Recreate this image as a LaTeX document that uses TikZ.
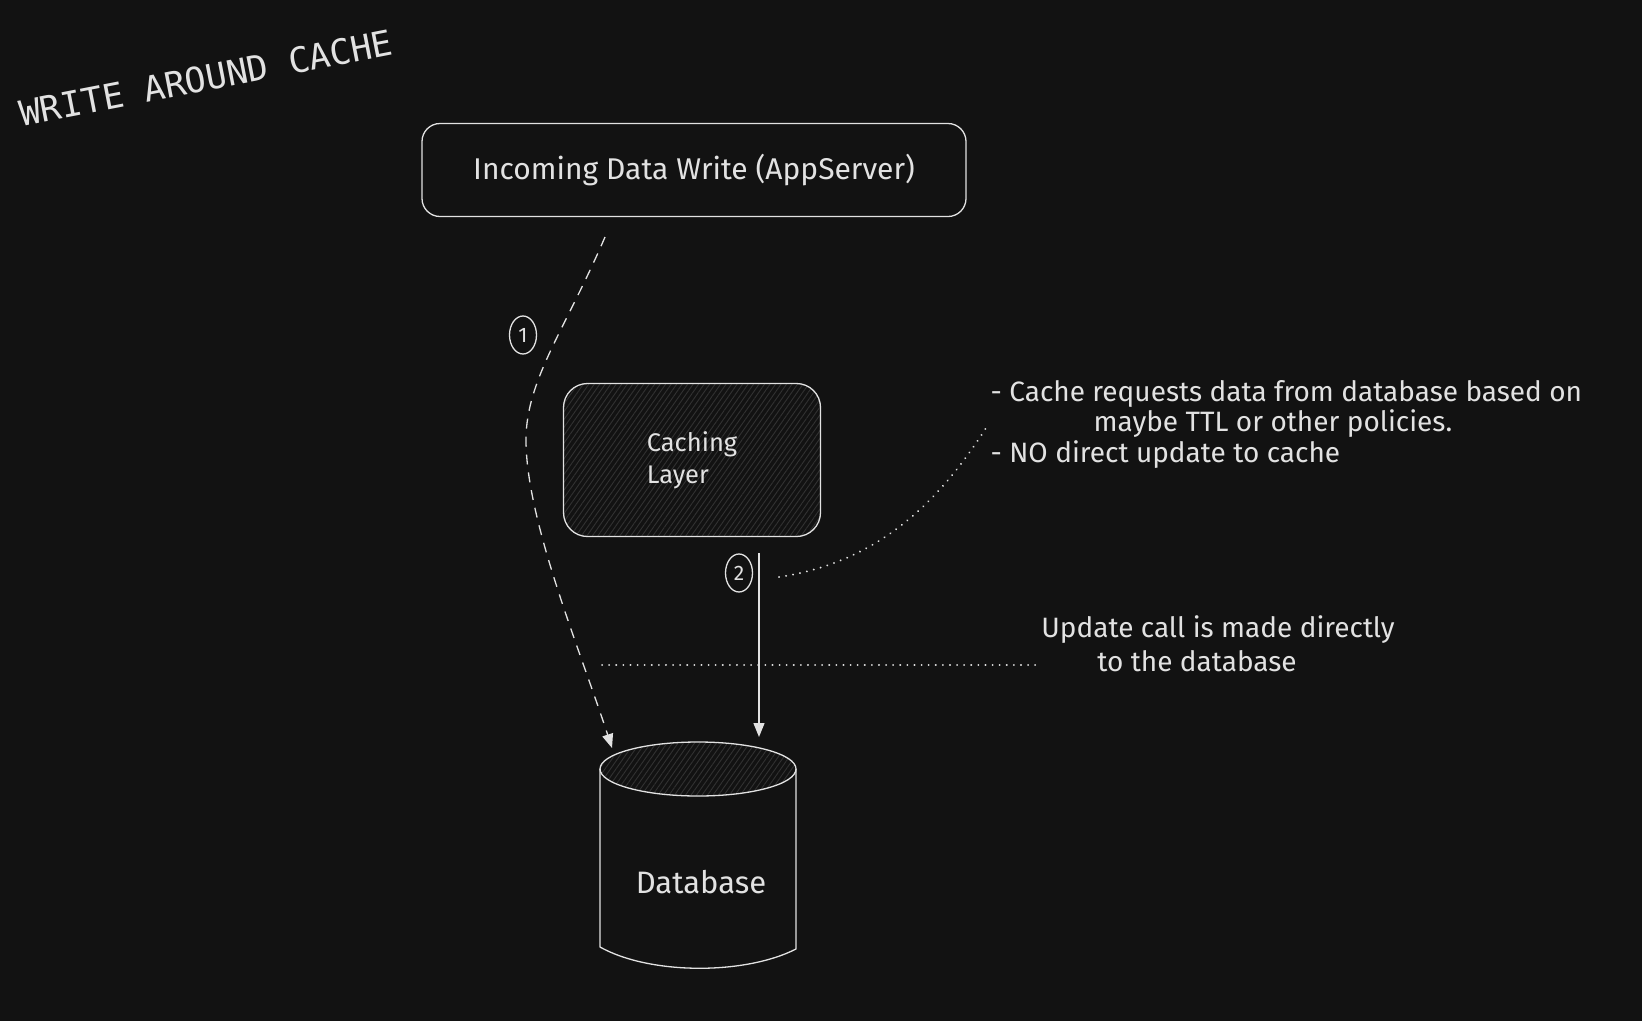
\documentclass[tikz,border=0pt]{standalone}
\usepackage{fontspec}
\setmainfont{Fira Sans}
\newfontfamily\titlefont{DejaVu Sans Mono}
\usetikzlibrary{arrows.meta,shapes.geometric,patterns.meta}
\definecolor{bg}{HTML}{121212}
\definecolor{ink}{HTML}{E2E2E2}
\definecolor{hatch}{HTML}{323232}

\begin{document}
\begin{tikzpicture}[x=1pt, y=-1pt, draw=ink, line width=1.3pt,
  box/.style={draw=ink, rounded corners=18pt, text=ink, font=\fontsize{30}{31}\selectfont},
  hatched/.style={pattern={Lines[angle=55,distance=4.5pt,line width=0.9pt]}, pattern color=hatch},
  note/.style={text=ink, font=\fontsize{28}{30}\selectfont, inner sep=0pt},
  stepno/.style={draw=ink, ellipse, minimum width=27pt, minimum height=38pt, inner sep=0pt, text=ink, font=\fontsize{21}{24}\selectfont},
  flow/.style={-{Triangle[length=14pt,width=11pt]}, line width=1.3pt},
  dots/.style={line width=2pt, dash pattern=on 0.1pt off 7pt, line cap=round}]

\fill[bg] (0,0) rectangle (1642,1021);
\useasboundingbox (0,0) rectangle (1642,1021);

\node[text=ink, font=\titlefont\fontsize{35}{38}\selectfont, rotate=11] (title) at (206,78) {WRITE AROUND CACHE};

\node[box, minimum width=544pt, minimum height=93pt] (app) at (694,170) {Incoming Data Write (AppServer)};

\node[box, hatched, rounded corners=24pt, minimum width=257pt, minimum height=153pt, align=left, font=\fontsize{25.5}{32}\selectfont] (cache) at (692,460) {Caching\\Layer};

% database cylinder
\draw[hatched] (698,769) ellipse [x radius=98, y radius=27];
\draw (600,769) -- (600,947) .. controls (650,975) and (745,975) .. (796,949) -- (796,769);
\node[text=ink, font=\fontsize{31}{34}\selectfont] (db) at (701,882) {Database};

\coordinate (w1) at (605,237);
\coordinate (dbl) at (612,748);
\coordinate (w2) at (759,553);
\coordinate (dbr) at (759,737);

\draw[flow, dash pattern=on 10pt off 8pt] (w1) .. controls (565,330) and (526,380) .. (526,440) .. controls (526,520) and (580,650) .. (dbl);
\draw[flow] (w2) -- (dbr);

\node[stepno] (n1) at (523,335) {1};

\node[stepno] (n2) at (739,573) {2};

\node[note, anchor=west] (ttl1) at (990,394) {- Cache requests data from database based on};
\node[note] (ttl2) at (1273,424) {maybe TTL or other policies.};
\node[note, anchor=west] (ttl3) at (990,455) {- NO direct update to cache};

\node[note] (upd1) at (1218,630) {Update call is made directly};
\node[note] (upd2) at (1197,661) {to the database};

\coordinate (d1) at (779,577);
\coordinate (d2) at (986,428);
\draw[dots] (d1) .. controls (880,562) and (940,500) .. (d2);% dotted lead to the notes
\coordinate (d3) at (602,665);
\coordinate (d4) at (1042,665);
\draw[dots] (d3) -- (d4);
\end{tikzpicture}
\end{document}
